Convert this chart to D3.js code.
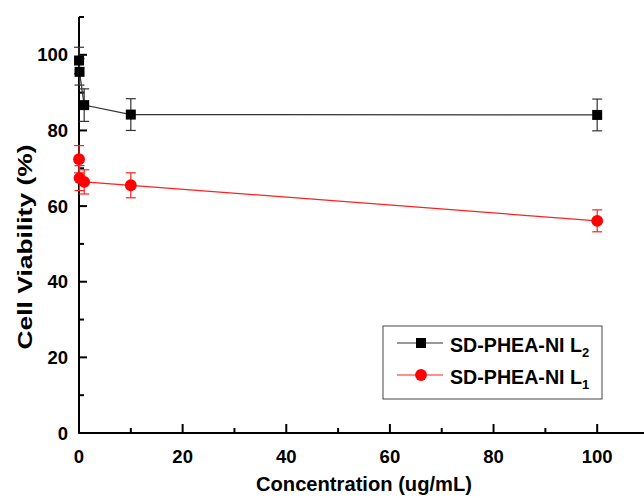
<!DOCTYPE html>
<html>
<head>
<meta charset="utf-8">
<script src="https://cdn.jsdelivr.net/npm/d3@7"></script>
<style>
  body { margin: 0; background: #fff; }
  text { font-family: "Liberation Sans", Arial, sans-serif; font-weight: bold; fill: #000; }
</style>
</head>
<body>
<script>
const WIDTH = 644;
const HEIGHT = 498;

// datos
const concL2 = [0.01, 0.1, 1, 10, 100];
const viabL2 = [98.5, 95.5, 86.7, 84.2, 84.1];
const errL2  = [3.5, 3.5, 4.3, 4.2, 4.2];

const concL1 = [0.01, 0.1, 1, 10, 100];
const viabL1 = [72.4, 67.4, 66.4, 65.5, 56.1];
const errL1  = [3.6, 3.3, 3.2, 3.3, 2.9];

const xTicks = [0, 20, 40, 60, 80, 100];
const yTicks = [0, 20, 40, 60, 80, 100];

let svg = d3.select('body').append('svg')
  .attr('width', WIDTH)
  .attr('height', HEIGHT);

let x = d3.scaleLinear().domain([0, 110]).range([79, 649]);
let y = d3.scaleLinear().domain([0, 110]).range([433, 17]);

// ticks menores (hacia adentro)
let minorX = d3.range(10, 110, 20);
let minorY = d3.range(10, 111, 20);

svg.append('g').selectAll('line').data(minorX).join('line')
  .attr('x1', d => x(d)).attr('x2', d => x(d))
  .attr('y1', 433).attr('y2', 428)
  .attr('stroke', '#000').attr('stroke-width', 2);
svg.append('g').selectAll('line').data(xTicks.concat([110])).join('line')
  .attr('x1', d => x(d)).attr('x2', d => x(d))
  .attr('y1', 433).attr('y2', 424)
  .attr('stroke', '#000').attr('stroke-width', 2);
svg.append('g').selectAll('line').data(minorY).join('line')
  .attr('x1', 79).attr('x2', 84)
  .attr('y1', d => y(d)).attr('y2', d => y(d))
  .attr('stroke', '#000').attr('stroke-width', 2);
svg.append('g').selectAll('line').data(yTicks).join('line')
  .attr('x1', 79).attr('x2', 87)
  .attr('y1', d => y(d)).attr('y2', d => y(d))
  .attr('stroke', '#000').attr('stroke-width', 2);

// lineas de ejes
svg.append('line').attr('x1', 79).attr('x2', 79).attr('y1', 17).attr('y2', 434)
  .attr('stroke', '#000').attr('stroke-width', 2);
svg.append('line').attr('x1', 78).attr('x2', 644).attr('y1', 433).attr('y2', 433)
  .attr('stroke', '#000').attr('stroke-width', 2);

// etiquetas de ticks
svg.append('g').selectAll('text').data(xTicks).join('text')
  .attr('x', d => x(d)).attr('y', 463)
  .attr('text-anchor', 'middle')
  .attr('font-size', 18.5)
  .text(d => d);
svg.append('g').selectAll('text').data(yTicks).join('text')
  .attr('x', 68).attr('y', d => y(d) + 6.5)
  .attr('text-anchor', 'end')
  .attr('font-size', 18.5)
  .text(d => d);

// titulos de ejes
svg.append('text')
  .attr('x', 364).attr('y', 491)
  .attr('text-anchor', 'middle')
  .attr('font-size', 20)
  .attr('textLength', 216)
  .attr('lengthAdjust', 'spacingAndGlyphs')
  .text('Concentration (ug/mL)');
svg.append('text')
  .attr('transform', 'translate(32,247) rotate(-90)')
  .attr('text-anchor', 'middle')
  .attr('font-size', 21)
  .attr('textLength', 205)
  .attr('lengthAdjust', 'spacingAndGlyphs')
  .text('Cell Viability (%)');

function drawSeries(conc, viab, err, color, lineColor, shape) {
  let pts = conc.map((c, i) => ({ c: c, v: viab[i], e: err[i] }));
  let g = svg.append('g');
  g.append('path').datum(pts)
    .attr('fill', 'none')
    .attr('stroke', lineColor)
    .attr('stroke-width', 1.2)
    .attr('d', d3.line().x(d => x(d.c)).y(d => y(d.v)));
  let eb = g.selectAll('g.eb').data(pts).join('g');
  eb.append('line')
    .attr('x1', d => x(d.c)).attr('x2', d => x(d.c))
    .attr('y1', d => y(d.v - d.e)).attr('y2', d => y(d.v + d.e))
    .attr('stroke', lineColor).attr('stroke-width', 1.2);
  eb.append('line')
    .attr('x1', d => x(d.c) - 5).attr('x2', d => x(d.c) + 5)
    .attr('y1', d => y(d.v + d.e)).attr('y2', d => y(d.v + d.e))
    .attr('stroke', lineColor).attr('stroke-width', 1.2);
  eb.append('line')
    .attr('x1', d => x(d.c) - 5).attr('x2', d => x(d.c) + 5)
    .attr('y1', d => y(d.v - d.e)).attr('y2', d => y(d.v - d.e))
    .attr('stroke', lineColor).attr('stroke-width', 1.2);
  g.selectAll('path.m').data(pts).join('path')
    .attr('class', 'm')
    .attr('transform', d => 'translate(' + x(d.c) + ',' + y(d.v) + ')')
    .attr('d', d3.symbol().type(shape).size(shape === d3.symbolSquare ? 100 : 110))
    .attr('fill', color);
}

drawSeries(concL1, viabL1, errL1, '#ff0000', '#ff2020', d3.symbolCircle);
drawSeries(concL2, viabL2, errL2, '#000000', '#333333', d3.symbolSquare);

// leyenda
let leg = svg.append('g');
leg.append('rect')
  .attr('x', 383).attr('y', 326).attr('width', 219).attr('height', 73)
  .attr('fill', '#fff').attr('stroke', '#444').attr('stroke-width', 1);

let legItems = [
  { name: 'SD-PHEA-NI L', sub: '2', color: '#000', line: '#333', shape: d3.symbolSquare, yy: 343 },
  { name: 'SD-PHEA-NI L', sub: '1', color: '#ff0000', line: '#ff2020', shape: d3.symbolCircle, yy: 375 }
];
legItems.forEach(it => {
  leg.append('line')
    .attr('x1', 397).attr('x2', 443).attr('y1', it.yy).attr('y2', it.yy)
    .attr('stroke', it.line).attr('stroke-width', 1);
  leg.append('path')
    .attr('transform', 'translate(421,' + it.yy + ')')
    .attr('d', d3.symbol().type(it.shape).size(it.shape === d3.symbolSquare ? 100 : 110))
    .attr('fill', it.color);
  let t = leg.append('text')
    .attr('x', 450).attr('y', it.yy + 9)
    .attr('font-size', 20);
  t.append('tspan')
    .attr('textLength', 132)
    .attr('lengthAdjust', 'spacingAndGlyphs')
    .text(it.name);
  t.append('tspan')
    .attr('font-size', 13)
    .attr('dy', 5)
    .text(it.sub);
});
</script>
</body>
</html>
